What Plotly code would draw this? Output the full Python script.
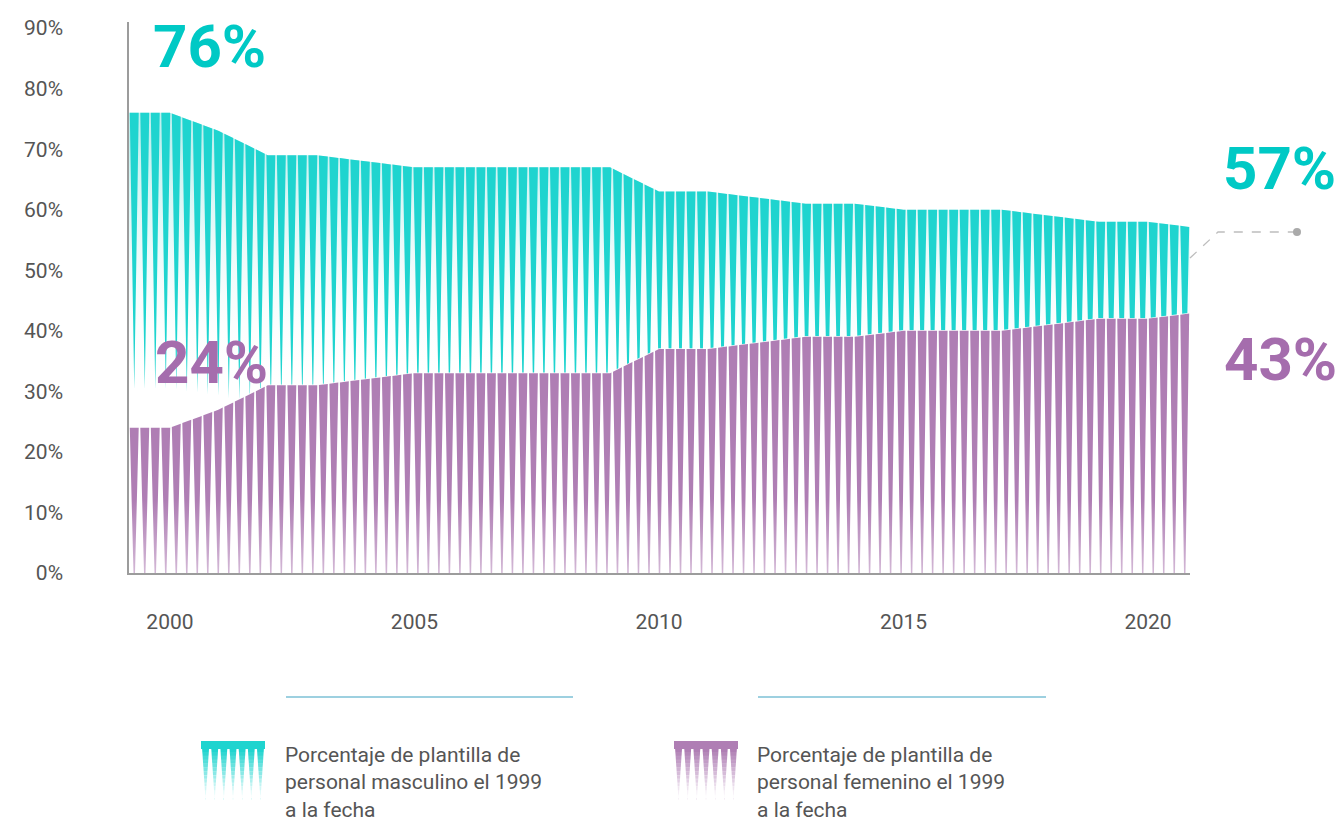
import numpy as np
import plotly.graph_objects as go

# ---------------- data ----------------
years = list(range(1999, 2022))
male = [76, 76, 73, 69, 69, 68, 67, 67, 67, 67, 67, 63, 63, 62, 61, 61, 60, 60, 60, 59, 58, 58, 57]
female = [24, 24, 27, 31, 31, 32, 33, 33, 33, 33, 33, 37, 37, 38, 39, 39, 40, 40, 40, 41, 42, 42, 43]
x_tick_vals = [2000, 2005, 2010, 2015, 2020]
y_tick_vals = [0, 10, 20, 30, 40, 50, 60, 70, 80, 90]
y_tick_text = [f"{v}%" for v in y_tick_vals]
legend_labels = [
    "Porcentaje de plantilla de<br>personal masculino el 1999<br>a la fecha",
    "Porcentaje de plantilla de<br>personal femenino el 1999<br>a la fecha",
]

# ---------------- style ----------------
TEAL = "rgb(31,212,207)"
TEAL_TXT = "rgb(0,201,197)"
PURPLE = "rgb(175,126,180)"
PURPLE_TXT = "rgb(165,109,173)"
GREY_TXT = "#555555"
FONT = "Roboto, Liberation Sans, sans-serif"
W, H = 1340, 823
PX_L, PX_R, PX_T, PX_B = 129, 1190, 22, 573
X_RANGE = [1999.162, 2020.859]
Y_RANGE = [0, 91]
N_TEETH = 101


def px(x):
    return (x - PX_L) / (PX_R - PX_L)


def py(y):
    return (PX_B - y) / (PX_B - PX_T)


def teeth(xs, ys, apex_fn):
    """Tapered spikes that follow the series line (a fill pattern)."""
    X, Y = [], []
    period = (X_RANGE[1] - X_RANGE[0]) / N_TEETH
    gap = period * 0.15
    for k in range(N_TEETH):
        xl = X_RANGE[0] + k * period + gap / 2
        xr = X_RANGE[0] + (k + 1) * period - gap / 2
        inner = [x for x in xs if xl < x < xr]
        tx = [xl] + inner + [xr]
        ty = list(np.interp(tx, xs, ys))
        xc = (xl + xr) / 2
        vc = float(np.interp(xc, xs, ys))
        X += tx + [xc, None]
        Y += ty + [apex_fn(vc), None]
    return X, Y


fig = go.Figure()

# teal haze behind spikes
fig.add_trace(go.Scatter(
    x=years, y=male, mode="none", fill="tozeroy",
    fillgradient=dict(type="vertical", start=30, stop=72,
                      colorscale=[[0, "rgba(255,255,255,0)"], [1, "rgba(140,228,225,0.55)"]]),
    hoverinfo="skip", showlegend=False))

tx, ty = teeth(years, male, lambda v: 0.4 * v)
fig.add_trace(go.Scatter(
    x=tx, y=ty, mode="none", fill="toself", fillcolor=TEAL,
    hoverinfo="skip", showlegend=False))

# white base under female spikes (hides teal below)
fig.add_trace(go.Scatter(
    x=years, y=female, mode="lines", fill="tozeroy", fillcolor="white",
    line=dict(color="rgba(255,255,255,0.9)", width=1.5),
    hoverinfo="skip", showlegend=False))

fx, fy = teeth(years, female, lambda v: -0.2 * v)
fig.add_trace(go.Scatter(
    x=fx, y=fy, mode="none", fill="toself",
    fillgradient=dict(type="vertical", start=0, stop=12,
                      colorscale=[[0, "rgba(175,126,180,0.55)"], [1, PURPLE]]),
    hoverinfo="skip", showlegend=False))

# ---------------- annotations ----------------
ann = []
big = dict(family=FONT, size=60, weight="bold")
for cx, cy, txt, col in [(209, 46, f"{male[0]}%", TEAL_TXT),
                         (211, 362, f"{female[0]}%", PURPLE_TXT),
                         (1279, 169, f"{male[-1]}%", TEAL_TXT),
                         (1280, 359, f"{female[-1]}%", PURPLE_TXT)]:
    ann.append(dict(x=px(cx), y=py(cy), xref="paper", yref="paper", text=txt,
                    xanchor="center", yanchor="middle", showarrow=False,
                    font=dict(big, color=col)))

shapes = []
# leader line to 57%
shapes.append(dict(type="path", xref="paper", yref="paper",
                   path=f"M {px(1190)},{py(258)} L {px(1218)},{py(232)} L {px(1297)},{py(232)}",
                   line=dict(color="#bdbdbd", width=1.3, dash="dash")))
shapes.append(dict(type="circle", xref="paper", yref="paper",
                   x0=px(1293), x1=px(1301), y0=py(236), y1=py(228),
                   fillcolor="#aaaaaa", line=dict(width=0)))

# legend separator lines
for x0, x1 in [(286, 573), (758, 1046)]:
    shapes.append(dict(type="line", xref="paper", yref="paper",
                       x0=px(x0), x1=px(x1), y0=py(697), y1=py(697),
                       line=dict(color="#7cc0d6", width=1.5)))

# legend swatches (spike pattern with fade)
for sx, col in [(201, TEAL), (674, PURPLE)]:
    n = 7
    w = 64 / n
    for k in range(n):
        a = sx + k * w + 0.6
        b = sx + (k + 1) * w - 0.6
        c = (a + b) / 2
        shapes.append(dict(type="path", xref="paper", yref="paper",
                           path=f"M {px(a)},{py(741)} L {px(b)},{py(741)} L {px(c)},{py(800)} Z",
                           fillcolor=col, line=dict(width=0)))
    shapes.append(dict(type="rect", xref="paper", yref="paper",
                       x0=px(sx), x1=px(sx + 64), y0=py(749), y1=py(741),
                       fillcolor=col, line=dict(width=0)))
    nb = 12
    for j in range(nb):
        y0 = 752 + j * (46 / nb)
        y1 = y0 + 46 / nb + 0.5
        shapes.append(dict(type="rect", xref="paper", yref="paper",
                           x0=px(sx - 1), x1=px(sx + 65), y0=py(y1), y1=py(y0),
                           fillcolor="white", opacity=min(0.95, 0.08 * (j + 1)),
                           line=dict(width=0)))

for lx, lab in [(283, legend_labels[0]), (755, legend_labels[1])]:
    ann.append(dict(x=px(lx), y=py(741), xref="paper", yref="paper", text=lab,
                    xanchor="left", yanchor="top", align="left", showarrow=False,
                    font=dict(family=FONT, size=21, color=GREY_TXT)))

fig.update_layout(
    width=W, height=H,
    margin=dict(l=PX_L, r=W - PX_R, t=PX_T, b=H - PX_B, pad=0),
    paper_bgcolor="white", plot_bgcolor="white",
    showlegend=False,
    annotations=ann, shapes=shapes,
    xaxis=dict(range=X_RANGE, tickvals=x_tick_vals, ticktext=[str(v) for v in x_tick_vals],
               showgrid=False, zeroline=False, showline=True, linecolor="#9c9c9c", linewidth=1.5,
               ticks="", ticklabelstandoff=29,
               tickfont=dict(family=FONT, size=21, color=GREY_TXT)),
    yaxis=dict(range=Y_RANGE, tickvals=y_tick_vals, ticktext=y_tick_text,
               showgrid=False, zeroline=False, showline=True, linecolor="#9c9c9c", linewidth=1.5,
               ticks="", ticklabelstandoff=60,
               tickfont=dict(family=FONT, size=21, color=GREY_TXT)),
)

fig.write_html("out.html", config={"displayModeBar": False})
with open("out.html", encoding="utf-8") as f:
    html = f.read()
html = html.replace("<head>", "<head><style>html,body{margin:0;padding:0;overflow:hidden;}</style>", 1)
with open("out.html", "w", encoding="utf-8") as f:
    f.write(html)
